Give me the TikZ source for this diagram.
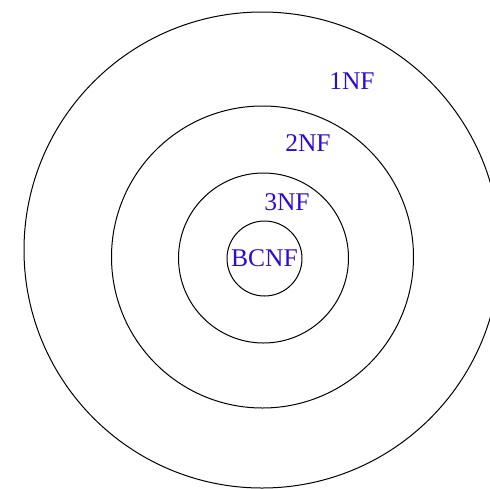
\documentclass[tikz,border=0pt]{standalone}
\usepackage{fontspec}
\setmainfont{Liberation Serif}
\definecolor{nfblue}{RGB}{45,10,220}
\begin{document}
\begin{tikzpicture}[x=1pt,y=-1pt,
  ring/.style={draw=black,line width=1pt,circle,inner sep=0pt},
  nflabel/.style={text=nfblue,font=\fontsize{25.5}{29}\selectfont,anchor=base,inner sep=0pt}]
\useasboundingbox (0,0) rectangle (490,488);
\clip (0,0) rectangle (490,488);
\node[ring,minimum size=476pt] (c1) at (262,250) {};
\node[ring,minimum size=302pt] (c2) at (262.5,257) {};
\node[ring,minimum size=170pt] (c3) at (263.5,258) {};
\node[ring,minimum size=75pt] (c4) at (264.5,258.5) {};
\node[nflabel] (l1) at (352,89.3) {1NF};
\node[nflabel] (l2) at (308,151.7) {2NF};
\node[nflabel] (l3) at (287,210) {3NF};
\node[nflabel] (l4) at (264.5,266.7) {BCNF};
\end{tikzpicture}
\end{document}
